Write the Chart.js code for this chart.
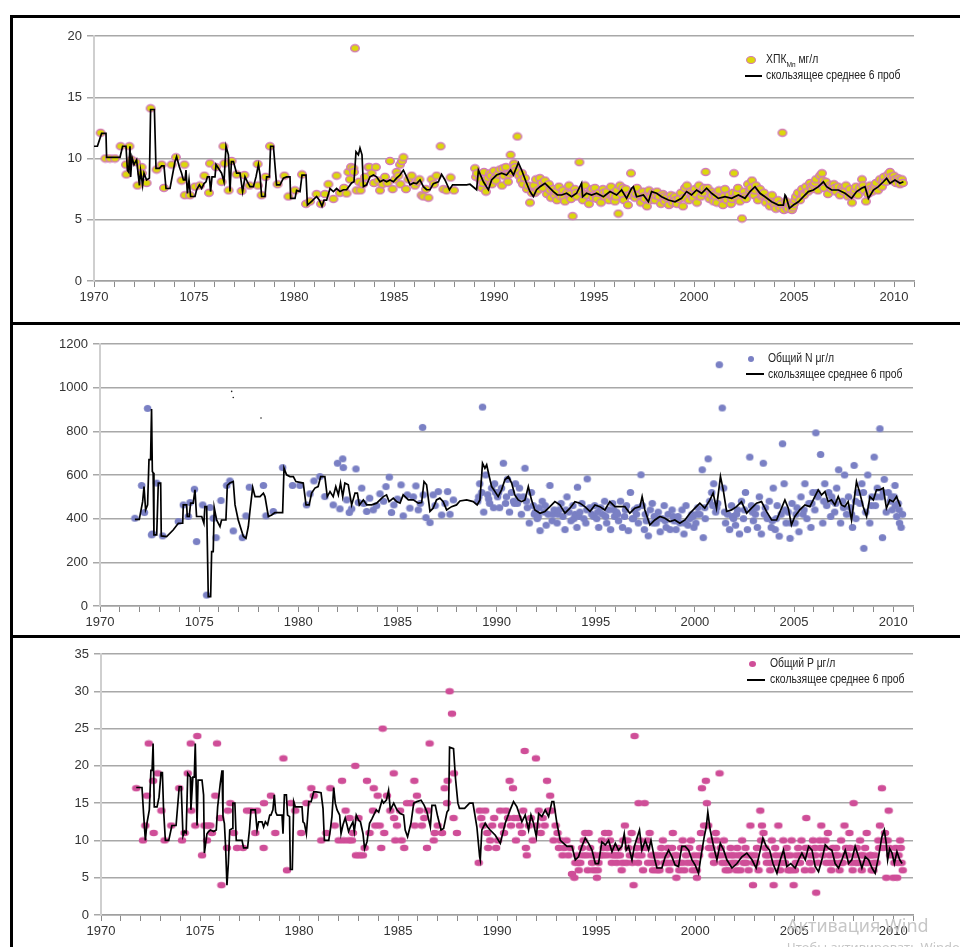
<!DOCTYPE html>
<html>
<head>
<meta charset="utf-8">
<script src="https://cdn.jsdelivr.net/npm/chart.js@4/dist/chart.umd.min.js"></script>
<style>
html,body{margin:0;padding:0;background:#fff;}
body{width:960px;height:947px;overflow:hidden;position:relative;font-family:'Liberation Sans','Arial',sans-serif;}
.pane{position:absolute;left:0;}
.pane canvas{display:block;}
.rule{position:absolute;background:#000;z-index:3;}
.lg{position:absolute;z-index:2;font-size:12.5px;line-height:15px;color:#222;white-space:nowrap;transform:scaleX(0.83);transform-origin:0 50%;}
.mk{position:absolute;z-index:2;border-radius:50%;}
.ln{position:absolute;z-index:2;height:2px;background:#000;}
.wm{position:absolute;z-index:4;color:#c6c6c6;font-family:'Noto Sans','Open Sans',sans-serif;white-space:nowrap;}
</style>
</head>
<body>
<div class="pane" style="top:0"><canvas id="c1" width="960" height="323"></canvas></div>
<div class="pane" style="top:323px"><canvas id="c2" width="960" height="313"></canvas></div>
<div class="pane" style="top:636px"><canvas id="c3" width="960" height="311"></canvas></div>

<div class="rule" style="left:10px;top:15px;width:950px;height:3px"></div>
<div class="rule" style="left:10px;top:322px;width:950px;height:3px"></div>
<div class="rule" style="left:10px;top:635px;width:950px;height:3px"></div>
<div class="rule" style="left:10px;top:15px;width:3px;height:932px"></div>

<!-- legends -->
<div class="mk" style="left:746px;top:55.5px;width:8px;height:6px;background:#dcd80a;border:1.5px solid #d27ab8"></div>
<div class="lg" style="left:766px;top:52px">ХПК<span style="font-size:8px;position:relative;top:4px">Мп</span> мг/л</div>
<div class="ln" style="left:745px;top:74.5px;width:17px"></div>
<div class="lg" style="left:766px;top:68px">скользящее среднее 6 проб</div>

<div class="mk" style="left:748px;top:356px;width:6px;height:6px;background:#7a80c4"></div>
<div class="lg" style="left:768px;top:351px">Общий N μг/л</div>
<div class="ln" style="left:746px;top:373px;width:18px"></div>
<div class="lg" style="left:768px;top:366.5px">скользящее среднее 6 проб</div>

<div class="mk" style="left:748.5px;top:661px;width:7px;height:6px;background:#cf4e98"></div>
<div class="lg" style="left:770px;top:656px">Общий P μг/л</div>
<div class="ln" style="left:747px;top:679px;width:18px"></div>
<div class="lg" style="left:770px;top:671.5px">скользящее среднее 6 проб</div>

<div class="wm" style="left:787px;top:913px;font-size:18px">Активация Wind</div>
<div class="wm" style="left:787px;top:938px;font-size:13px">Чтобы активировать Windows</div>

<script>
// x tick labels, every 5 years (the second one is printed as "1075" in the original)
const xTickLabels = ['1970','1075','1980','1985','1990','1995','2000','2005','2010'];

// ХПК Мп, мг/л: samples and 6-sample moving average
const codPts = [
[1970.33,12.1],[1970.57,10.0],[1970.8,10.0],[1971.05,10.0],[1971.33,11.0],[1971.6,9.5],[1971.62,8.7],[1971.77,11.0],[1971.88,9.9],[1972.1,9.7],[1972.18,7.8],[1972.38,9.3],[1972.4,8.8],[1972.63,8.0],[1972.83,14.1],[1973.13,9.1],[1973.38,9.5],[1973.5,7.6],[1973.88,9.5],[1974.1,10.1],[1974.38,8.2],[1974.52,9.5],[1974.54,7.0],[1974.8,7.0],[1975.05,7.7],[1975.3,7.8],[1975.52,8.6],[1975.75,7.2],[1975.8,9.6],[1976.1,9.3],[1976.38,8.1],[1976.47,11.0],[1976.52,9.6],[1976.73,7.4],[1976.88,9.8],[1977.13,8.7],[1977.38,7.35],[1977.52,8.65],[1977.77,7.8],[1978.18,9.55],[1978.2,7.8],[1978.38,7.0],[1978.58,8.5],[1978.8,11.0],[1979.18,7.9],[1979.52,8.6],[1979.72,6.9],[1980.05,7.4],[1980.4,8.7],[1980.6,6.3],[1980.8,6.5],[1981.13,7.1],[1981.35,6.3],[1981.55,7.1],[1981.72,7.9],[1981.97,6.7],[1982.13,8.6],[1982.3,7.2],[1982.5,7.6],[1982.63,7.15],[1982.72,8.9],[1982.8,8.3],[1982.85,9.3],[1982.97,9.2],[1983.0,8.9],[1983.05,19.0],[1983.13,7.4],[1983.25,8.1],[1983.33,7.4],[1983.45,7.9],[1983.55,8.5],[1983.72,9.3],[1983.77,9.3],[1983.88,8.8],[1984.0,8.0],[1984.1,9.3],[1984.22,8.2],[1984.3,7.4],[1984.42,7.9],[1984.55,8.5],[1984.68,8.0],[1984.8,9.8],[1984.93,7.5],[1985.05,8.3],[1985.13,8.9],[1985.22,8.6],[1985.3,9.5],[1985.32,7.9],[1985.4,9.8],[1985.47,10.1],[1985.6,7.5],[1985.72,8.3],[1985.88,8.6],[1986.05,7.8],[1986.18,8.1],[1986.27,8.3],[1986.38,7.0],[1986.47,6.9],[1986.6,7.5],[1986.72,6.8],[1986.88,8.3],[1987.0,7.9],[1987.13,8.6],[1987.33,11.0],[1987.47,7.5],[1987.63,7.4],[1987.83,8.45],[1988.0,7.4],
[1989.05,9.2],[1989.1,8.5],[1989.15,8.8],[1989.3,8.3],[1989.4,7.6],[1989.45,8.0],[1989.5,8.9],[1989.6,7.3],[1989.7,8.4],[1989.8,8.8],[1989.85,8.6],[1989.9,7.9],
[1990.0,9.0],[1990.05,8.4],[1990.1,8.2],[1990.2,8.7],[1990.3,9.1],[1990.4,7.8],[1990.45,9.2],[1990.5,8.6],[1990.6,9.3],[1990.7,8.1],[1990.75,8.7],[1990.83,10.3],[1990.9,8.9],
[1991.0,9.6],[1991.05,9.3],[1991.1,9.0],[1991.17,11.8],[1991.25,8.6],[1991.35,8.2],[1991.4,8.8],[1991.45,7.9],[1991.55,8.4],[1991.65,7.5],[1991.7,7.8],[1991.8,6.4],[1991.9,7.2],
[1992.0,7.8],[1992.05,7.2],[1992.1,8.3],[1992.2,7.4],[1992.3,8.4],[1992.4,8.0],[1992.45,7.6],[1992.55,8.2],[1992.65,7.1],[1992.75,7.9],[1992.8,7.4],[1992.85,6.8],[1992.95,7.5],
[1993.05,7.0],[1993.1,7.3],[1993.15,6.6],[1993.25,7.7],[1993.35,6.9],[1993.45,7.4],[1993.5,6.8],[1993.55,6.5],[1993.65,7.2],[1993.75,7.8],[1993.8,7.1],[1993.85,6.7],[1993.93,5.3],
[1994.05,7.5],[1994.1,7.2],[1994.15,6.9],[1994.27,9.7],[1994.35,7.3],[1994.45,6.6],[1994.5,7.1],[1994.55,7.8],[1994.65,7.0],[1994.75,6.3],[1994.85,7.4],[1994.9,7.5],[1994.95,6.8],
[1995.05,7.6],[1995.1,7.0],[1995.15,6.7],[1995.25,7.2],[1995.35,6.4],[1995.45,7.5],[1995.5,7.2],[1995.55,6.9],[1995.65,7.3],[1995.75,6.6],[1995.85,7.7],[1995.9,6.9],[1995.95,7.0],
[1996.05,6.5],[1996.1,6.9],[1996.15,7.4],[1996.22,5.5],[1996.3,7.8],[1996.4,7.1],[1996.45,7.6],[1996.5,6.6],[1996.6,7.5],[1996.7,6.2],[1996.8,7.0],[1996.85,8.8],[1996.95,7.3],
[1997.05,6.8],[1997.1,7.1],[1997.15,7.6],[1997.25,7.0],[1997.35,6.4],[1997.45,7.3],[1997.5,6.9],[1997.55,6.7],[1997.65,6.1],[1997.75,7.4],[1997.8,6.6],[1997.85,6.9],[1997.95,7.2],
[1998.05,6.6],[1998.1,7.0],[1998.15,7.3],[1998.25,6.9],[1998.35,6.3],[1998.45,7.1],[1998.5,6.9],[1998.55,6.5],[1998.65,6.8],[1998.75,6.2],[1998.85,7.0],[1998.9,6.7],[1998.95,6.4],
[1999.05,6.9],[1999.1,6.6],[1999.15,6.3],[1999.25,6.7],[1999.35,7.2],[1999.45,6.1],[1999.5,6.8],[1999.55,7.6],[1999.65,7.8],[1999.75,6.6],[1999.85,7.3],[1999.9,7.1],[1999.95,6.8],
[2000.05,7.5],[2000.1,7.1],[2000.15,6.4],[2000.25,7.8],[2000.35,6.9],[2000.45,7.2],[2000.5,7.6],[2000.58,8.9],[2000.68,7.6],[2000.78,6.7],[2000.88,7.3],[2000.9,7.0],[2000.98,6.5],
[2001.05,7.1],[2001.1,6.9],[2001.15,6.4],[2001.25,7.4],[2001.35,6.8],[2001.45,6.2],[2001.5,6.9],[2001.55,7.5],[2001.65,6.6],[2001.75,7.0],[2001.85,6.3],[2001.9,6.7],[2001.95,7.2],
[2002.0,8.8],[2002.1,6.9],[2002.15,7.2],[2002.2,7.6],[2002.3,6.5],[2002.4,5.1],[2002.5,7.3],[2002.55,6.9],[2002.6,6.7],[2002.7,7.9],[2002.8,7.4],[2002.85,7.6],[2002.9,8.2],
[2003.0,7.0],[2003.05,7.4],[2003.1,7.8],[2003.2,6.6],[2003.3,7.5],[2003.4,6.9],[2003.45,7.0],[2003.5,7.2],[2003.6,6.4],[2003.7,6.8],[2003.8,6.1],[2003.85,6.5],[2003.9,7.0],
[2004.0,6.3],[2004.05,6.1],[2004.1,5.9],[2004.2,6.6],[2004.3,6.0],[2004.35,6.3],[2004.42,12.1],[2004.5,5.8],[2004.6,6.5],[2004.65,6.0],[2004.7,5.9],[2004.8,6.2],[2004.9,5.8],[2004.95,6.0],
[2005.0,6.3],[2005.05,6.6],[2005.1,6.9],[2005.2,7.2],[2005.3,6.6],[2005.4,7.5],[2005.45,7.1],[2005.5,7.0],[2005.6,7.7],[2005.7,7.3],[2005.8,8.0],[2005.85,7.7],[2005.9,7.5],
[2006.0,7.8],[2006.05,8.0],[2006.1,8.3],[2006.2,7.4],[2006.3,8.6],[2006.4,8.8],[2006.45,8.2],[2006.5,7.6],[2006.6,8.1],[2006.7,7.1],[2006.8,7.8],[2006.85,7.6],[2006.9,7.5],
[2007.0,7.9],[2007.05,7.6],[2007.1,7.3],[2007.2,7.7],[2007.3,7.0],[2007.4,7.6],[2007.45,7.4],[2007.5,7.3],[2007.6,7.8],[2007.7,6.9],[2007.8,7.5],[2007.85,7.0],[2007.9,6.4],
[2008.0,7.2],[2008.05,7.4],[2008.1,7.7],[2008.2,7.0],[2008.3,7.6],[2008.4,8.3],[2008.45,7.8],[2008.5,7.4],[2008.6,6.5],[2008.7,7.1],[2008.8,7.8],[2008.85,7.5],[2008.9,7.3],
[2009.0,7.6],[2009.05,7.8],[2009.1,8.0],[2009.2,7.4],[2009.3,8.3],[2009.4,7.7],[2009.45,8.2],[2009.5,8.5],[2009.6,8.1],[2009.7,8.7],[2009.8,8.9],[2009.85,8.5],[2009.9,8.2],
[2010.0,8.6],[2010.05,8.3],[2010.1,8.0],[2010.2,8.4],[2010.25,8.2],[2010.3,7.9],[2010.4,8.3],[2010.45,8.0]
];
const codAvg = [
[1970.0,11.0],[1970.17,11.0],[1970.38,12.05],[1970.6,12.05],[1970.63,10.1],[1971.3,10.1],[1971.43,11.0],[1971.6,11.0],[1971.67,9.05],[1971.73,8.9],[1971.8,11.0],[1971.83,8.5],[1971.9,10.1],[1972.0,9.5],[1972.13,9.9],[1972.27,7.8],[1972.33,9.0],[1972.43,7.8],[1972.5,8.8],[1972.63,8.25],[1972.77,8.4],[1972.83,14.0],[1973.02,14.0],[1973.1,9.2],[1973.27,9.2],[1973.38,9.4],[1973.5,9.4],[1973.6,7.55],[1973.8,7.55],[1974.05,9.75],[1974.13,10.15],[1974.27,9.3],[1974.38,8.8],[1974.47,8.25],[1974.55,8.25],[1974.6,9.05],[1974.67,7.15],[1974.75,8.25],[1974.83,6.9],[1975.05,6.9],[1975.13,7.45],[1975.27,7.85],[1975.38,7.55],[1975.5,7.95],[1975.6,8.1],[1975.67,8.5],[1975.77,8.5],[1975.83,7.3],[1975.9,8.5],[1976.05,8.5],[1976.1,9.5],[1976.22,9.2],[1976.38,8.8],[1976.5,8.1],[1976.6,11.0],[1976.72,10.3],[1976.8,7.3],[1976.87,9.75],[1976.97,9.75],[1977.13,8.8],[1977.3,8.8],[1977.43,7.3],[1977.55,8.5],[1977.67,8.1],[1977.8,7.7],[1977.97,7.7],[1978.1,8.5],[1978.22,9.5],[1978.3,8.7],[1978.38,6.9],[1978.55,6.9],[1978.63,8.5],[1978.77,8.5],[1978.83,11.0],[1978.97,11.0],[1979.13,7.85],[1979.3,7.85],[1979.47,8.4],[1979.63,8.5],[1979.8,8.5],[1979.83,6.75],[1980.05,6.75],[1980.13,7.4],[1980.3,7.3],[1980.4,8.65],[1980.6,8.65],[1980.67,6.2],[1980.88,6.5],[1981.13,6.9],[1981.27,6.6],[1981.4,6.1],[1981.5,6.6],[1981.63,6.6],[1981.8,7.55],[1981.97,7.3],[1982.13,7.55],[1982.3,7.3],[1982.47,7.45],[1982.63,7.45],[1982.88,8.0],[1983.0,8.1],[1983.1,10.55],[1983.22,10.3],[1983.3,10.85],[1983.4,10.3],[1983.47,7.7],[1983.63,7.85],[1983.8,8.5],[1983.97,8.65],[1984.13,8.5],[1984.3,8.1],[1984.47,8.25],[1984.63,8.1],[1984.8,8.25],[1984.97,8.1],[1985.13,8.4],[1985.3,8.65],[1985.47,9.05],[1985.63,8.5],[1985.8,7.85],[1985.97,8.0],[1986.13,7.95],[1986.3,8.25],[1986.47,7.7],[1986.63,7.45],[1986.8,7.45],[1986.97,7.95],[1987.22,8.1],[1987.38,8.7],[1987.55,8.25],[1987.77,7.45],[1987.93,7.85],[1988.63,7.85],[1988.8,7.9],[1989.13,7.45],[1989.22,9.05],
[1989.47,8.1],[1989.72,7.45],[1989.88,8.25],[1990.13,8.65],[1990.38,8.8],[1990.63,8.65],[1990.83,9.06],[1990.97,8.65],[1991.22,9.66],[1991.38,9.06],[1991.6,8.1],[1991.8,7.3],[1991.97,6.9],[1992.13,7.45],[1992.3,7.7],[1992.55,7.98],[1992.72,7.7],[1992.97,7.3],[1993.17,7.02],[1993.38,7.02],[1993.63,7.16],[1993.88,6.88],[1994.13,7.16],[1994.38,7.98],[1994.43,6.88],[1994.63,7.16],[1994.88,7.02],[1995.13,7.16],[1995.47,6.88],[1995.8,7.3],[1996.13,7.02],[1996.38,7.43],[1996.63,6.75],[1996.88,7.57],[1996.97,7.7],[1997.13,6.88],[1997.47,7.02],[1997.72,6.47],[1997.88,7.3],[1998.13,7.16],[1998.38,6.88],[1998.72,6.61],[1999.05,6.47],[1999.38,6.75],[1999.63,7.3],[1999.88,7.02],[2000.13,7.43],[2000.38,7.16],[2000.63,7.57],[2000.88,7.16],[2001.22,6.75],[2001.55,6.88],[2001.88,6.75],[2002.22,7.02],[2002.55,6.75],[2002.8,7.3],[2003.05,7.7],[2003.3,7.16],[2003.55,6.88],[2003.88,6.47],[2004.22,6.2],[2004.47,6.2],[2004.55,7.02],[2004.6,6.9],[2004.77,5.93],[2004.97,6.2],[2005.22,6.47],[2005.47,6.88],[2005.72,7.3],[2005.97,7.43],[2006.22,7.7],[2006.47,8.1],[2006.63,7.7],[2006.88,7.43],[2007.22,7.43],[2007.55,7.16],[2007.88,6.75],[2008.13,7.3],[2008.38,7.57],[2008.55,7.7],[2008.72,6.75],[2008.97,7.43],[2009.22,7.7],[2009.47,8.1],[2009.63,8.38],[2009.8,7.98],[2010.05,8.25],[2010.3,7.98],[2010.47,8.1]
];

// Общий N, μг/л
const nPts = [
[1971.76,402],[1972.1,552],[1972.24,428],[1972.4,905],[1972.6,326],[1972.65,330],[1972.86,563],[1973.16,321],[1973.95,387],[1974.2,463],[1974.45,410],[1974.54,474],[1974.76,535],[1974.87,295],[1975.18,463],[1975.38,50],[1975.55,451],[1975.71,402],[1975.85,313],[1976.1,483],[1976.39,552],[1976.55,573],[1976.72,344],[1977.18,313],[1977.36,413],[1977.53,544],[1978.24,552],[1978.37,413],[1978.74,433],[1979.21,634],[1979.71,552],[1980.08,552],[1980.42,463],[1980.59,514],[1980.79,573],[1981.09,593],[1981.34,501],[1981.76,463],[1981.98,654],[1982.1,445],[1982.24,674],[1982.27,634],[1982.44,486],[1982.57,428],[1982.69,445],[1982.91,628],[1983.03,474],[1983.2,540],[1983.3,470],[1983.45,433],[1983.6,494],[1983.78,440],[1983.95,460],[1984.12,514],[1984.3,480],[1984.42,547],[1984.59,590],[1984.7,428],[1984.82,463],[1985.0,490],[1985.18,555],[1985.29,413],[1985.5,509],[1985.63,448],[1985.8,500],[1985.93,550],[1986.05,440],[1986.15,470],[1986.27,818],[1986.3,509],[1986.44,405],[1986.64,382],[1986.8,509],[1986.9,460],[1987.06,524],[1987.23,417],[1987.4,470],[1987.53,524],[1987.65,420],[1987.82,486],
[1989.05,480],[1989.1,500],[1989.15,560],[1989.25,520],[1989.29,911],[1989.35,430],[1989.45,600],[1989.55,510],[1989.6,490],[1989.65,470],[1989.75,540],[1989.85,450],[1989.9,560],[1989.95,520],
[1990.05,500],[1990.1,520],[1990.15,450],[1990.25,540],[1990.34,654],[1990.45,470],[1990.5,500],[1990.55,580],[1990.65,430],[1990.75,520],[1990.85,480],[1990.9,470],[1990.95,560],
[1991.05,470],[1991.1,500],[1991.15,540],[1991.25,420],[1991.35,500],[1991.43,631],[1991.5,480],[1991.55,450],[1991.65,380],[1991.75,520],[1991.85,460],[1991.9,420],[1991.95,430],
[1992.05,400],[1992.1,410],[1992.15,450],[1992.19,345],[1992.3,480],[1992.4,430],[1992.45,460],[1992.5,370],[1992.6,420],[1992.69,552],[1992.8,390],[1992.85,420],[1992.9,440],
[1993.05,380],[1993.1,420],[1993.15,440],[1993.25,470],[1993.35,410],[1993.45,350],[1993.5,440],[1993.55,500],[1993.65,430],[1993.75,390],[1993.85,460],[1993.9,400],[1993.95,420],
[1994.05,360],[1994.08,544],[1994.15,410],[1994.2,430],[1994.3,470],[1994.4,400],[1994.5,380],[1994.55,440],[1994.57,582],[1994.7,450],[1994.8,420],[1994.9,410],[1994.95,460],
[1995.05,400],[1995.1,430],[1995.15,360],[1995.25,450],[1995.35,420],[1995.45,480],[1995.5,410],[1995.55,380],[1995.65,440],[1995.75,350],[1995.85,470],[1995.9,440],[1995.95,410],
[1996.05,430],[1996.1,420],[1996.15,390],[1996.25,480],[1996.35,360],[1996.45,410],[1996.5,440],[1996.55,460],[1996.64,345],[1996.75,520],[1996.85,400],[1996.9,400],[1996.95,440],
[1997.05,420],[1997.1,450],[1997.15,380],[1997.28,601],[1997.35,460],[1997.45,350],[1997.5,420],[1997.55,390],[1997.65,321],[1997.75,440],[1997.85,470],[1997.9,380],[1997.95,410],
[1998.05,380],[1998.1,400],[1998.15,430],[1998.25,340],[1998.35,400],[1998.45,460],[1998.5,390],[1998.55,360],[1998.65,420],[1998.75,350],[1998.85,440],[1998.9,410],[1998.95,390],
[1999.05,350],[1999.1,390],[1999.15,410],[1999.25,380],[1999.35,440],[1999.45,330],[1999.5,380],[1999.55,460],[1999.65,370],[1999.75,400],[1999.85,420],[1999.9,410],[1999.95,360],
[2000.05,380],[2000.1,420],[2000.15,450],[2000.25,420],[2000.37,624],[2000.42,313],[2000.5,450],[2000.52,400],[2000.67,674],[2000.75,480],[2000.85,520],[2000.9,460],[2000.95,560],
[2001.05,430],[2001.1,450],[2001.15,470],[2001.23,1105],[2001.38,907],[2001.45,540],[2001.5,430],[2001.55,380],[2001.65,420],[2001.75,350],[2001.85,460],[2001.9,410],[2001.95,400],
[2002.05,370],[2002.1,420],[2002.15,440],[2002.25,330],[2002.35,480],[2002.45,400],[2002.5,440],[2002.55,520],[2002.65,350],[2002.77,682],[2002.85,460],[2002.9,430],[2002.95,390],
[2003.05,420],[2003.1,450],[2003.15,360],[2003.25,500],[2003.35,330],[2003.45,654],[2003.5,420],[2003.55,450],[2003.65,400],[2003.75,480],[2003.85,360],[2003.9,390],[2003.95,540],
[2004.05,350],[2004.1,400],[2004.15,460],[2004.25,320],[2004.35,420],[2004.42,743],[2004.5,560],[2004.55,440],[2004.6,380],[2004.7,430],[2004.8,310],[2004.85,380],[2004.9,470],
[2005.05,380],[2005.1,420],[2005.15,450],[2005.25,340],[2005.35,500],[2005.45,420],[2005.5,440],[2005.55,560],[2005.65,400],[2005.75,470],[2005.85,360],[2005.9,470],[2005.95,520],
[2006.05,440],[2006.1,793],[2006.15,520],[2006.2,500],[2006.34,694],[2006.45,380],[2006.5,480],[2006.55,560],[2006.65,460],[2006.75,520],[2006.85,410],[2006.9,500],[2006.95,480],
[2007.05,430],[2007.1,470],[2007.15,540],[2007.25,624],[2007.35,380],[2007.45,480],[2007.5,450],[2007.55,600],[2007.65,420],[2007.75,500],[2007.85,450],[2007.9,420],[2007.95,360],
[2008.03,644],[2008.1,480],[2008.12,400],[2008.22,520],[2008.32,470],[2008.42,560],[2008.5,520],[2008.52,264],[2008.62,430],[2008.72,600],[2008.82,380],[2008.9,460],[2008.92,500],
[2009.04,682],[2009.1,460],[2009.15,500],[2009.2,540],[2009.33,812],[2009.4,500],[2009.46,313],[2009.5,520],[2009.55,580],[2009.65,430],[2009.75,520],[2009.85,480],[2009.9,500],[2009.95,440],
[2010.05,500],[2010.09,552],[2010.1,460],[2010.18,410],[2010.25,470],[2010.3,440],[2010.32,380],[2010.4,360],[2010.47,420]
];
const nStray = [[1976.64,983],[1976.72,955],[1978.12,861]];
const nAvg = [
[1971.76,397],[1971.98,397],[1972.15,478],[1972.22,547],[1972.3,440],[1972.4,463],[1972.47,670],[1972.55,670],[1972.6,902],[1972.64,616],[1972.68,610],[1972.72,326],[1972.86,326],[1972.94,563],[1973.06,563],[1973.09,321],[1973.36,318],[1973.7,349],[1973.95,379],[1974.17,379],[1974.2,463],[1974.37,463],[1974.4,410],[1974.5,410],[1974.57,471],[1974.7,471],[1974.79,532],[1974.87,410],[1975.13,410],[1975.24,379],[1975.29,455],[1975.38,455],[1975.46,43],[1975.58,43],[1975.63,249],[1975.71,249],[1975.76,451],[1975.88,394],[1976.05,364],[1976.13,394],[1976.35,394],[1976.42,552],[1976.55,563],[1976.72,570],[1976.81,463],[1976.97,394],[1977.23,318],[1977.36,310],[1977.48,364],[1977.56,433],[1977.7,543],[1977.82,501],[1978.07,501],[1978.24,517],[1978.32,501],[1978.49,410],[1978.66,417],[1978.82,428],[1979.21,428],[1979.28,631],[1979.41,601],[1979.58,593],[1979.75,593],[1979.88,570],[1980.25,563],[1980.39,463],[1980.55,463],[1980.67,517],[1980.84,540],[1981.0,547],[1981.13,593],[1981.34,593],[1981.46,501],[1981.6,524],[1981.76,501],[1981.89,547],[1982.02,509],[1982.13,563],[1982.24,501],[1982.35,563],[1982.52,555],[1982.69,463],[1982.86,517],[1982.98,517],[1983.08,463],[1983.28,486],[1983.45,463],[1983.7,463],[1983.95,471],[1984.12,486],[1984.29,501],[1984.45,509],[1984.58,478],[1984.79,494],[1984.96,478],[1985.13,471],[1985.29,509],[1985.55,486],[1985.8,486],[1986.05,471],[1986.22,474],[1986.34,570],[1986.47,555],[1986.64,433],[1986.8,448],[1986.97,486],[1987.14,494],[1987.31,478],[1987.48,440],[1987.73,455],[1987.98,463],[1988.15,481],[1988.49,486],[1988.82,478],[1989.02,463],
[1989.16,486],[1989.29,654],[1989.41,631],[1989.5,647],[1989.63,593],[1989.75,547],[1989.92,524],[1990.08,501],[1990.25,532],[1990.42,578],[1990.59,593],[1990.76,563],[1990.92,509],[1991.09,486],[1991.26,478],[1991.43,486],[1991.6,547],[1991.76,486],[1991.93,440],[1992.19,425],[1992.44,433],[1992.69,455],[1992.94,478],[1993.19,463],[1993.45,425],[1993.7,448],[1993.95,478],[1994.2,471],[1994.45,455],[1994.71,433],[1994.96,463],[1995.21,455],[1995.46,440],[1995.71,478],[1995.97,455],[1996.22,455],[1996.47,455],[1996.72,425],[1996.97,448],[1997.23,455],[1997.34,501],[1997.48,440],[1997.73,371],[1997.98,394],[1998.24,410],[1998.49,402],[1998.74,387],[1998.99,394],[1999.24,379],[1999.5,394],[1999.75,425],[2000.0,448],[2000.25,471],[2000.5,448],[2000.76,486],[2000.92,517],[2001.09,448],[2001.29,593],[2001.43,532],[2001.6,433],[2001.85,440],[2002.1,455],[2002.35,478],[2002.61,425],[2002.86,448],[2003.11,471],[2003.36,478],[2003.61,433],[2003.87,394],[2004.12,394],[2004.37,448],[2004.54,486],[2004.71,448],[2004.87,371],[2005.04,410],[2005.29,440],[2005.55,463],[2005.8,455],[2006.05,501],[2006.22,532],[2006.39,509],[2006.56,524],[2006.72,478],[2006.89,486],[2007.06,463],[2007.23,501],[2007.39,463],[2007.56,455],[2007.73,478],[2007.9,394],[2008.02,478],[2008.15,570],[2008.32,517],[2008.49,455],[2008.66,410],[2008.83,501],[2009.0,486],[2009.16,532],[2009.33,532],[2009.5,540],[2009.66,448],[2009.83,486],[2010.0,478],[2010.17,501],[2010.37,455]
];

// Общий P, μг/л
const pPts = [
[1971.78,17],[1972.12,10],[1972.24,12],[1972.32,16],[1972.41,23],[1972.63,18],[1972.66,11],[1972.86,19],[1973.05,14],[1973.21,10],[1973.55,12],[1973.95,17],[1974.09,10],[1974.22,11],[1974.38,19],[1974.53,23],[1974.56,14],[1974.76,12],[1974.86,24],[1975.1,8],[1975.22,12],[1975.35,10],[1975.4,12],[1975.52,12],[1975.6,11],[1975.77,16],[1975.86,23],[1976.02,13],[1976.08,4],[1976.36,9],[1976.41,14],[1976.53,15],[1976.7,11],[1976.87,9],[1977.17,9],[1977.37,14],[1977.57,14],[1977.79,11],[1977.88,14],[1978.21,9],[1978.23,15],[1978.58,16],[1978.8,11],[1979.21,21],[1979.39,6],[1979.59,15],[1979.81,14],[1980.11,11],[1980.37,15],[1980.62,17],[1980.74,16],[1981.12,10],[1981.38,11],[1981.58,17],[1981.8,12],[1982.0,10],[1982.17,18],[1982.25,10],[1982.35,14],[1982.5,10],[1982.55,13],[1982.67,10],[1982.72,11],[1982.84,20],[1982.87,8],[1983.0,13],[1983.05,8],[1983.22,8],[1983.31,9],[1983.43,18],[1983.56,11],[1983.73,14],[1983.77,17],[1983.85,12],[1983.97,16],[1984.07,12],[1984.15,9],[1984.22,25],[1984.3,11],[1984.44,16],[1984.61,14],[1984.78,19],[1984.8,13],[1984.86,10],[1984.94,12],[1985.1,14],[1985.18,10],[1985.31,9],[1985.45,15],[1985.65,15],[1985.82,18],[1985.84,12],[1985.95,16],[1986.08,14],[1986.2,12],[1986.32,13],[1986.46,9],[1986.5,14],[1986.59,23],[1986.8,10],[1986.85,11],[1987.0,12],[1987.22,11],[1987.35,17],[1987.47,15],[1987.5,18],[1987.6,30],[1987.72,27],[1987.8,13],[1987.82,19],[1987.97,11],[1989.07,7],[1989.12,14],
[1989.2,13],[1989.3,12],[1989.4,14],[1989.5,11],[1989.55,9],[1989.65,10],[1989.75,12],[1989.85,13],[1989.95,9],
[1990.05,10],[1990.15,14],[1990.25,12],[1990.35,11],[1990.45,14],[1990.55,13],[1990.63,18],[1990.7,12],[1990.8,17],[1990.85,13],[1990.95,10],
[1991.05,13],[1991.15,12],[1991.25,11],[1991.32,14],[1991.39,22],[1991.45,9],[1991.5,8],[1991.6,12],[1991.7,13],[1991.8,10],[1991.96,21],
[1992.0,12],[1992.1,14],[1992.2,11],[1992.3,13],[1992.4,12],[1992.52,18],[1992.6,14],[1992.68,16],[1992.75,14],[1992.85,10],[1992.95,12],
[1993.05,11],[1993.12,9],[1993.2,10],[1993.3,8],[1993.4,9],[1993.5,10],[1993.6,8],[1993.7,9],[1993.78,5.5],[1993.9,5],[1993.95,7],
[1994.04,8],[1994.08,7],[1994.12,6],[1994.2,7],[1994.29,9],[1994.33,8],[1994.37,10],[1994.45,11],[1994.54,8],[1994.58,6],[1994.62,11],[1994.7,9],[1994.79,7],[1994.83,8],[1994.87,6],[1994.95,8],
[1995.04,5],[1995.08,6],[1995.12,7],[1995.2,8],[1995.29,10],[1995.33,8],[1995.37,9],[1995.45,11],[1995.54,8],[1995.58,9],[1995.62,11],[1995.7,10],[1995.79,7],[1995.83,8],[1995.87,9],[1995.95,8],
[1996.04,7],[1996.08,8],[1996.12,9],[1996.2,8],[1996.29,6],[1996.33,7],[1996.37,10],[1996.45,12],[1996.54,7],[1996.58,10],[1996.62,9],[1996.7,8],[1996.79,11],[1996.83,7],[1996.89,4],[1996.94,24],
[1997.04,9],[1997.08,8],[1997.12,7],[1997.14,15],[1997.2,10],[1997.29,8],[1997.33,9],[1997.37,6],[1997.45,15],[1997.54,9],[1997.58,10],[1997.62,7],[1997.7,11],[1997.79,8],[1997.83,7],[1997.87,6],[1997.95,8],
[1998.04,7],[1998.08,6],[1998.12,8],[1998.2,6],[1998.29,9],[1998.33,8],[1998.37,10],[1998.45,7],[1998.54,8],[1998.58,7],[1998.62,9],[1998.7,6],[1998.79,7],[1998.83,9],[1998.87,11],[1998.95,8],
[1999.05,5],[1999.08,8],[1999.12,7],[1999.2,6],[1999.29,9],[1999.33,7],[1999.37,10],[1999.45,6],[1999.54,8],[1999.58,9],[1999.62,7],[1999.7,9],[1999.79,10],[1999.83,7],[1999.87,6],[1999.95,8],
[2000.04,7],[2000.08,6],[2000.09,5],[2000.2,8],[2000.25,9],[2000.29,11],[2000.34,17],[2000.45,12],[2000.54,18],[2000.59,15],[2000.66,12],[2000.7,9],[2000.79,10],[2000.83,9],[2000.87,8],[2000.95,7],
[2001.04,11],[2001.08,10],[2001.12,8],[2001.23,19],[2001.29,9],[2001.33,8],[2001.37,7],[2001.45,10],[2001.54,6],[2001.58,7],[2001.62,8],[2001.7,6],[2001.79,9],[2001.83,8],[2001.87,7],[2001.95,8],
[2002.04,7],[2002.08,6],[2002.12,9],[2002.2,8],[2002.29,6],[2002.33,8],[2002.37,10],[2002.45,7],[2002.54,9],[2002.58,7],[2002.62,8],[2002.7,6],[2002.79,12],[2002.83,8],[2002.92,4],[2002.95,7],
[2003.04,8],[2003.08,7],[2003.12,9],[2003.2,6],[2003.29,14],[2003.33,10],[2003.37,12],[2003.45,11],[2003.54,9],[2003.58,8],[2003.62,7],[2003.7,8],[2003.79,6],[2003.83,7],[2003.87,10],[2003.96,4],
[2004.04,9],[2004.08,8],[2004.12,7],[2004.2,12],[2004.29,6],[2004.33,7],[2004.37,8],[2004.45,10],[2004.54,7],[2004.58,8],[2004.62,9],[2004.7,6],[2004.79,8],[2004.83,6],[2004.87,10],[2004.97,4],
[2005.04,6],[2005.08,7],[2005.12,8],[2005.2,9],[2005.29,7],[2005.33,8],[2005.37,10],[2005.45,8],[2005.54,6],[2005.58,9],[2005.61,13],[2005.7,9],[2005.79,7],[2005.83,8],[2005.87,6],[2005.95,10],
[2006.04,9],[2006.08,8],[2006.11,3],[2006.2,7],[2006.29,10],[2006.33,9],[2006.37,12],[2006.45,8],[2006.54,9],[2006.58,10],[2006.62,7],[2006.7,11],[2006.79,8],[2006.83,7],[2006.87,6],[2006.95,9],
[2007.04,7],[2007.08,8],[2007.12,9],[2007.2,8],[2007.29,6],[2007.33,7],[2007.37,10],[2007.45,7],[2007.54,12],[2007.58,8],[2007.62,9],[2007.7,8],[2007.79,11],[2007.83,9],[2007.87,7],[2007.95,6],
[2008.0,15],[2008.08,8],[2008.12,7],[2008.16,9],[2008.25,7],[2008.33,10],[2008.37,8],[2008.41,6],[2008.5,8],[2008.58,9],[2008.62,7],[2008.66,11],[2008.75,7],[2008.83,8],[2008.87,8],[2008.91,6],
[2009.0,6],[2009.04,7],[2009.08,8],[2009.16,7],[2009.25,10],[2009.29,9],[2009.33,12],[2009.43,17],[2009.5,9],[2009.54,10],[2009.58,11],[2009.65,5],[2009.72,10],[2009.77,14],[2009.8,9],[2009.85,8],
[2010.0,5],[2010.06,7],[2010.09,8],[2010.12,9],[2010.2,5],[2010.24,7],[2010.27,8],[2010.35,10],[2010.38,9],[2010.42,7],[2010.48,6]
];
const pAvg = [
[1971.78,17.1],[1972.07,17.1],[1972.15,13.6],[1972.24,10.0],[1972.32,12.3],[1972.44,14.1],[1972.52,19.4],[1972.58,19.4],[1972.63,23.0],[1972.69,14.5],[1972.83,14.5],[1972.93,15.8],[1973.03,19.1],[1973.1,19.1],[1973.16,14.1],[1973.25,10.0],[1973.42,10.0],[1973.58,12.0],[1973.79,12.0],[1973.95,17.2],[1974.05,17.2],[1974.14,10.6],[1974.22,11.2],[1974.3,11.0],[1974.38,19.0],[1974.51,18.5],[1974.54,14.1],[1974.64,18.5],[1974.71,18.5],[1974.76,23.0],[1974.85,12.0],[1974.9,18.1],[1975.1,18.1],[1975.18,16.1],[1975.22,8.3],[1975.35,10.9],[1975.43,11.2],[1975.52,11.4],[1975.69,11.2],[1975.82,11.4],[1975.89,14.5],[1976.02,17.6],[1976.11,19.4],[1976.16,13.2],[1976.23,12.3],[1976.29,9.2],[1976.36,4.0],[1976.43,6.9],[1976.5,11.4],[1976.62,11.6],[1976.66,15.0],[1976.76,15.0],[1976.83,10.0],[1977.12,10.0],[1977.2,9.0],[1977.4,9.0],[1977.5,11.5],[1977.57,14.1],[1977.79,14.1],[1977.88,11.4],[1977.96,12.5],[1978.13,12.5],[1978.21,11.8],[1978.3,12.5],[1978.41,12.1],[1978.52,13.4],[1978.58,13.4],[1978.68,14.1],[1978.75,16.1],[1978.82,13.8],[1978.89,13.4],[1979.14,13.4],[1979.19,10.9],[1979.26,16.1],[1979.36,16.1],[1979.42,13.4],[1979.52,13.2],[1979.56,6.1],[1979.66,6.1],[1979.73,15.2],[1979.81,14.5],[1980.15,14.5],[1980.2,12.5],[1980.27,12.3],[1980.37,10.9],[1980.49,15.2],[1980.61,15.2],[1980.74,16.5],[1980.87,16.5],[1981.11,16.4],[1981.21,14.3],[1981.28,10.0],[1981.5,10.0],[1981.58,11.4],[1981.66,13.2],[1981.75,17.1],[1981.83,15.0],[1981.92,14.1],[1982.05,13.4],[1982.12,10.9],[1982.22,12.1],[1982.33,13.0],[1982.42,12.1],[1982.5,11.2],[1982.59,11.8],[1982.72,12.5],[1982.79,11.2],[1982.89,13.4],[1983.01,12.7],[1983.1,12.5],[1983.23,10.9],[1983.31,8.9],[1983.43,9.8],[1983.56,12.3],[1983.68,12.9],[1983.77,13.4],[1983.9,14.1],[1984.02,13.8],[1984.19,15.4],[1984.27,15.0],[1984.41,15.4],[1984.52,16.7],[1984.61,14.1],[1984.78,15.0],[1984.94,14.1],[1985.11,13.6],[1985.28,13.4],[1985.36,11.4],[1985.48,10.5],[1985.65,12.3],[1985.79,15.0],[1985.95,15.2],[1986.16,15.4],[1986.32,14.7],[1986.46,13.8],[1986.63,11.8],[1986.71,14.7],[1986.88,14.7],[1987.0,13.2],[1987.17,11.4],[1987.3,11.6],[1987.47,13.8],[1987.55,14.1],[1987.6,22.5],[1987.8,22.3],[1987.9,18.3],[1988.02,15.0],[1988.1,14.3],[1988.36,14.3],[1988.61,15.0],[1988.78,15.0],[1988.98,11.8],[1989.12,7.8],
[1989.15,7.4],[1989.23,11.4],[1989.4,12.3],[1989.52,11.8],[1989.65,11.4],[1989.91,10.7],[1990.16,9.6],[1990.41,12.3],[1990.66,14.1],[1990.83,15.2],[1991.0,14.5],[1991.25,12.5],[1991.42,13.4],[1991.59,11.4],[1991.71,13.4],[1991.84,12.3],[1991.98,10.5],[1992.1,13.6],[1992.26,13.2],[1992.43,14.1],[1992.6,13.2],[1992.77,15.2],[1992.86,15.2],[1993.02,12.3],[1993.19,10.0],[1993.36,9.6],[1993.53,9.2],[1993.78,9.2],[1993.95,7.4],[1994.11,7.8],[1994.28,9.2],[1994.45,10.3],[1994.62,9.6],[1994.79,8.7],[1994.96,6.9],[1995.12,6.9],[1995.29,9.8],[1995.46,9.4],[1995.63,10.0],[1995.8,8.5],[1995.97,9.6],[1996.13,8.7],[1996.3,9.2],[1996.42,10.9],[1996.52,8.7],[1996.64,9.2],[1996.81,7.4],[1996.93,9.2],[1997.06,10.3],[1997.19,11.4],[1997.31,8.7],[1997.48,10.0],[1997.65,8.7],[1997.77,10.0],[1997.93,7.8],[1998.07,6.3],[1998.32,6.3],[1998.49,7.8],[1998.66,8.7],[1998.83,7.8],[1998.99,6.7],[1999.16,6.5],[1999.33,9.2],[1999.5,9.2],[1999.67,8.7],[1999.84,7.4],[2000.0,6.7],[2000.17,5.6],[2000.29,7.8],[2000.46,10.5],[2000.56,11.8],[2000.64,13.8],[2000.76,11.4],[2000.93,9.2],[2001.1,7.4],[2001.27,9.6],[2001.44,8.7],[2001.6,7.4],[2001.86,6.3],[2002.11,6.9],[2002.36,7.8],[2002.61,8.3],[2002.87,7.4],[2003.08,6.3],[2003.29,8.7],[2003.42,10.3],[2003.59,9.2],[2003.76,8.7],[2003.93,6.9],[2004.13,5.6],[2004.3,7.4],[2004.46,8.7],[2004.63,6.5],[2004.83,6.9],[2005.05,6.3],[2005.22,7.4],[2005.39,8.3],[2005.56,7.4],[2005.73,9.2],[2005.9,8.7],[2006.06,6.5],[2006.23,5.8],[2006.4,7.4],[2006.57,9.4],[2006.74,8.9],[2006.9,8.7],[2007.07,6.9],[2007.24,6.3],[2007.41,7.4],[2007.58,8.7],[2007.75,6.9],[2007.91,7.4],[2008.08,9.2],[2008.25,7.8],[2008.42,6.3],[2008.59,7.8],[2008.76,7.4],[2008.93,6.3],[2009.09,5.6],[2009.26,7.8],[2009.43,10.5],[2009.55,11.4],[2009.65,9.6],[2009.72,7.4],[2009.82,8.9],[2009.94,8.3],[2010.06,6.9],[2010.19,8.5],[2010.33,7.4],[2010.45,6.9]
];

Chart.defaults.font.family = "'Liberation Sans','Arial',sans-serif";
Chart.defaults.font.size = 13;
Chart.defaults.color = '#333';

function dot(w, h, fill, stroke, lw) {
  const c = document.createElement('canvas');
  c.width = w + 2; c.height = h + 2;
  const g = c.getContext('2d');
  g.beginPath();
  g.ellipse(c.width / 2, c.height / 2, w / 2 - (lw || 0) / 2, h / 2 - (lw || 0) / 2, 0, 0, Math.PI * 2);
  g.fillStyle = fill; g.fill();
  if (stroke) { g.lineWidth = lw; g.strokeStyle = stroke; g.stroke(); }
  return c;
}

function xLabel(v) {
  const i = Math.round(v - 1970) / 5;
  return Number.isInteger(i) && xTickLabels[i] !== undefined ? xTickLabels[i] : '';
}

function makeChart(id, geo, yMax, yStep, sets) {
  return new Chart(document.getElementById(id), {
    type: 'scatter',
    data: { datasets: sets },
    options: {
      responsive: false, animation: false, events: [],
      layout: { padding: { top: geo.top, right: 960 - geo.right, left: 0, bottom: 0 } },
      plugins: { legend: { display: false }, tooltip: { enabled: false } },
      scales: {
        x: {
          type: 'linear', min: 1970, max: 2011,
          afterFit: s => { s.height = geo.h - geo.bottom; },
          ticks: { stepSize: 1, autoSkip: false, maxRotation: 0, padding: 3, callback: xLabel, color: '#333' },
          grid: { drawOnChartArea: false, drawTicks: true, tickLength: 6, color: '#8a8a8a', lineWidth: 1 },
          border: { display: true, color: '#a0a0a0', width: 1.5 }
        },
        y: {
          min: 0, max: yMax,
          afterFit: s => { s.width = geo.left; },
          ticks: { stepSize: yStep, padding: 5, color: '#333', callback: v => String(v) },
          grid: { color: '#a8a8a8', lineWidth: 1.5, tickLength: 7 },
          border: { display: true, color: '#cfcfcf', width: 2 }
        }
      }
    }
  });
}

const avgStyle = { showLine: true, borderColor: '#000', borderWidth: 1.7, pointRadius: 0, tension: 0, order: 0 };

makeChart('c1', { top: 36, left: 94, right: 914, bottom: 281, h: 323 }, 20, 5, [
  Object.assign({ label: 'скользящее среднее 6 проб', data: codAvg }, avgStyle),
  { label: 'ХПК Мп мг/л', data: codPts, pointStyle: dot(10, 8.5, '#dcd80a', '#d27ab8', 1.5), pointRadius: 4, order: 1 }
]);

makeChart('c2', { top: 21, left: 100, right: 913, bottom: 283, h: 313 }, 1200, 200, [
  Object.assign({ label: 'скользящее среднее 6 проб', data: nAvg }, avgStyle),
  { label: 'Общий N μг/л', data: nPts, pointStyle: dot(7.5, 7, '#7a80c4'), pointRadius: 3.5, order: 1 },
  { label: '', data: nStray, pointRadius: 0.8, pointBackgroundColor: '#222', pointBorderWidth: 0, order: 2 }
]);

makeChart('c3', { top: 18, left: 101, right: 913, bottom: 279, h: 311 }, 35, 5, [
  Object.assign({ label: 'скользящее среднее 6 проб', data: pAvg }, avgStyle),
  { label: 'Общий P μг/л', data: pPts, pointStyle: dot(8.5, 6.5, '#cf4e98'), pointRadius: 3.5, order: 1 }
]);
</script>
</body>
</html>
